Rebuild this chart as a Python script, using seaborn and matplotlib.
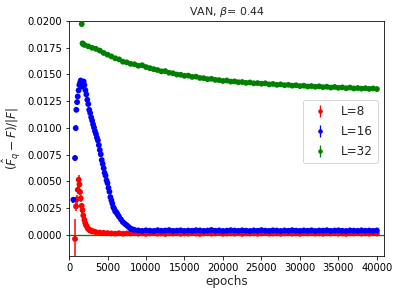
import numpy as np
import pandas as pd
import matplotlib.pyplot as plt
import seaborn as sns

# --- data ---
# L=8 (red)
red_epochs_early = [780, 910, 1000, 1130, 1260, 1350, 1430, 1520, 1650, 1750,
                    1850, 1990, 2100, 2200, 2300, 2430, 2550, 2700, 2850, 3000, 3200]
red_vals_early = [-0.0004, 0.00265, 0.0033, 0.0042, 0.00514, 0.0047, 0.0040, 0.0034, 0.0027, 0.0023,
                  0.0018, 0.0014, 0.0011, 0.0009, 0.0008, 0.0006, 0.0005, 0.0004, 0.0004, 0.0003, 0.0003]
red_errs_early = [0.0019, 0.0004, 0.0004, 0.0004, 0.0004, 0.0004, 0.0003, 0.0003, 0.0003, 0.0003,
                  0.0002, 0.0002, 0.0002, 0.00015, 0.00015, 0.00015, 0.00012, 0.0001, 0.0001, 0.0001, 0.0001]
red_epochs_tail = list(range(3500, 40001, 500))
red_vals_tail = [0.00024, 0.00020, 0.00017, 0.00015, 0.00012, 0.00010, 0.00014, 0.00009, 0.00012, 0.00011,
                 0.00014, 0.00010, 0.00013, 0.00008, 0.00012, 0.00015, 0.00010, 0.00011, 0.00007, 0.00013,
                 0.00011, 0.00014, 0.00009, 0.00012, 0.00010, 0.00016, 0.00011, 0.00008, 0.00012, 0.00013,
                 0.00010, 0.00012, 0.00015, 0.00009, 0.00011, 0.00013, 0.00010, 0.00014, 0.00008, 0.00012,
                 0.00011, 0.00013, 0.00009, 0.00012, 0.00015, 0.00010, 0.00011, 0.00013, 0.00009, 0.00012,
                 0.00014, 0.00010, 0.00012, 0.00008, 0.00013, 0.00011, 0.00015, 0.00010, 0.00012, 0.00009,
                 0.00013, 0.00011, 0.00014, 0.00010, 0.00012, 0.00008, 0.00013, 0.00011, 0.00015, 0.00010,
                 0.00012, 0.00009, 0.00013, 0.00011]

# L=16 (blue)
blue_epochs_early = [560, 780, 870, 950, 1050, 1130, 1240, 1340, 1430, 1520, 1600, 1690, 1800, 1900,
                     2000, 2125, 2250, 2375, 2500, 2625, 2750, 2875, 3000, 3125, 3250, 3375, 3500,
                     3625, 3750, 3875, 4000, 4125, 4250, 4375, 4500, 4625, 4750, 4875, 5000, 5125,
                     5250, 5375, 5500, 5625, 5750, 5875, 6000, 6125, 6250, 6375, 6500, 6750, 7000,
                     7250, 7500, 7750, 8000, 8250, 8500]
blue_vals_early = [0.00327, 0.00717, 0.00997, 0.01168, 0.0124, 0.01293, 0.0135, 0.0140, 0.0142, 0.01442,
                   0.0140, 0.01386, 0.0141, 0.01433,
                   0.0140, 0.01352, 0.01312, 0.01262, 0.01222, 0.01168, 0.01138, 0.01098, 0.01068, 0.01032,
                   0.01002, 0.00968, 0.00942, 0.00908, 0.00882, 0.00838, 0.00792, 0.00752, 0.00698, 0.00662,
                   0.00622, 0.00578, 0.00552, 0.00508, 0.00482, 0.00438, 0.00402, 0.00352, 0.00322, 0.00292,
                   0.00258, 0.00242, 0.00218, 0.00212, 0.00198, 0.00182, 0.00168, 0.00142, 0.00118, 0.00102,
                   0.00088, 0.00072, 0.00056, 0.00050, 0.00045]
blue_errs_early = [0.0003, 0.0003, 0.0003, 0.00025, 0.0002, 0.0002, 0.0002, 0.0002, 0.0002, 0.0002,
                   0.0002, 0.0002, 0.0002, 0.0002]
blue_epochs_tail = list(range(9000, 40001, 500))
blue_vals_tail = [0.00040, 0.00036, 0.00041, 0.00038, 0.00035, 0.00042, 0.00037, 0.00039, 0.00043, 0.00036,
                  0.00038, 0.00041, 0.00035, 0.00039, 0.00037, 0.00042, 0.00040, 0.00036, 0.00039, 0.00044,
                  0.00037, 0.00040, 0.00035, 0.00038, 0.00042, 0.00039, 0.00036, 0.00041, 0.00038, 0.00035,
                  0.00040, 0.00037, 0.00043, 0.00038, 0.00036, 0.00041, 0.00039, 0.00035, 0.00040, 0.00037,
                  0.00042, 0.00038, 0.00036, 0.00040, 0.00037, 0.00041, 0.00035, 0.00039, 0.00038, 0.00042,
                  0.00036, 0.00039, 0.00041, 0.00037, 0.00035, 0.00040, 0.00038, 0.00036, 0.00041, 0.00037,
                  0.00039, 0.00036, 0.00040]

# L=32 (green)
green_epochs = [1650, 1750, 1850, 2000] + list(range(2500, 40001, 500))
green_vals = [0.0197, 0.0179, 0.01782, 0.01775,
              0.01762, 0.01748, 0.01738, 0.01722, 0.01700, 0.01684, 0.01668, 0.01650, 0.01640, 0.01618,
              0.01612, 0.01598, 0.01594, 0.01580, 0.01585, 0.01568, 0.01558, 0.01548, 0.01540, 0.01528,
              0.01530, 0.01515, 0.01510, 0.01498, 0.01496, 0.01486, 0.01488, 0.01476, 0.01478, 0.01466,
              0.01464, 0.01455, 0.01458, 0.01448, 0.01446, 0.01438, 0.01442, 0.01432, 0.01434, 0.01426,
              0.01428, 0.01420, 0.01424, 0.01416, 0.01418, 0.01412, 0.01416, 0.01406, 0.01410, 0.01402,
              0.01406, 0.01398, 0.01402, 0.01394, 0.01398, 0.01390, 0.01394, 0.01386, 0.01390, 0.01384,
              0.01388, 0.01380, 0.01384, 0.01376, 0.01382, 0.01374, 0.01378, 0.01370, 0.01376, 0.01368,
              0.01372, 0.01366, 0.01370, 0.01364, 0.01368, 0.01362]

tail_err = 0.00015
green_first_err = 0.00018

labels = ['L=8', 'L=16', 'L=32']
colors = {'L=8': 'red', 'L=16': 'blue', 'L=32': 'green'}

# --- assemble ---
red_x = red_epochs_early + red_epochs_tail
red_y = red_vals_early + red_vals_tail
red_e = red_errs_early + [tail_err] * len(red_vals_tail)
blue_x = blue_epochs_early + blue_epochs_tail
blue_y = blue_vals_early + blue_vals_tail
blue_e = blue_errs_early + [tail_err] * (len(blue_y) - len(blue_errs_early))
green_e = [green_first_err] + [tail_err] * (len(green_vals) - 1)

frames = []
for lab, xs, ys, es in zip(labels, [red_x, blue_x, green_epochs],
                           [red_y, blue_y, green_vals], [red_e, blue_e, green_e]):
    frames.append(pd.DataFrame({'epoch': xs, 'value': ys, 'err': es, 'L': lab}))
df = pd.concat(frames, ignore_index=True)

# --- plot ---
sns.set_style('ticks', {'axes.edgecolor': 'black', 'xtick.color': 'black', 'ytick.color': 'black'})
plt.rcParams['font.family'] = ['DejaVu Sans']

fig, ax = plt.subplots(figsize=(399 / 72, 294 / 72), dpi=72)
fig.subplots_adjust(left=0.173, right=0.962, top=0.929, bottom=0.129)

ax.axhline(0, color='green', lw=1.3, zorder=1)

for lab in labels:
    d = df[df['L'] == lab]
    ax.errorbar(d['epoch'], d['value'], yerr=d['err'], fmt='none',
                ecolor=colors[lab], elinewidth=1.5, zorder=2)
sns.scatterplot(data=df, x='epoch', y='value', hue='L', palette=colors,
                s=34, linewidth=0, legend=False, ax=ax, zorder=3)

# legend handles (dot + vertical error bar)
for lab in labels:
    ax.errorbar([np.nan], [np.nan], yerr=[1], fmt='.', color=colors[lab],
                markersize=7, elinewidth=1.3, label=lab)
ax.legend(loc='center right', bbox_to_anchor=(1.0, 0.53), fontsize=12, labelspacing=0.6)

ax.set_xlim(0, 40900)
ax.set_ylim(-0.002, 0.02)
ax.set_xticks(range(0, 40001, 5000))
ax.set_yticks(np.arange(0, 0.02001, 0.0025))
ax.tick_params(labelsize=10)
ax.set_xlabel('epochs', fontsize=12, labelpad=2)
ax.set_ylabel(r'$(\hat{F}_q-F)/|F|$', fontsize=12, labelpad=4)
ax.set_title(r'VAN, $\beta$= 0.44', fontsize=11)

fig.savefig('out.png', dpi=72)
